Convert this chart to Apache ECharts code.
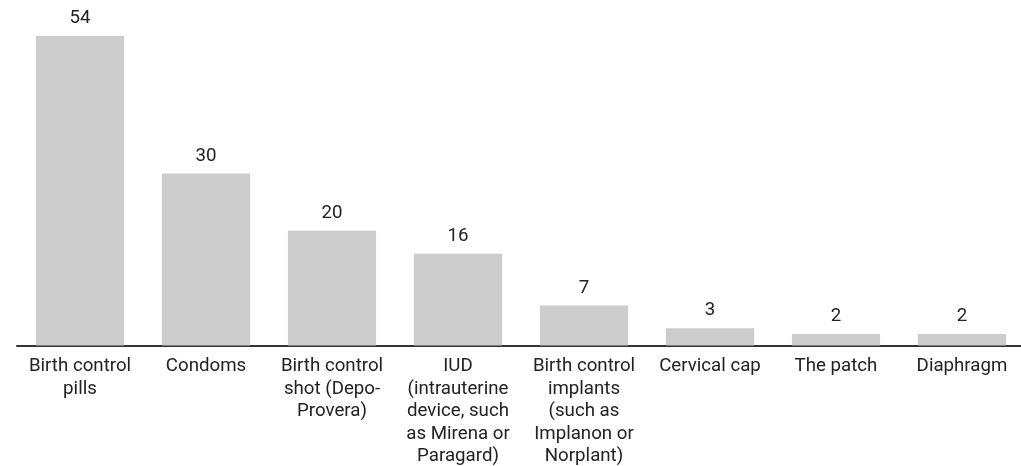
<!DOCTYPE html>
<html>
<head>
<meta charset="utf-8">
<script src="https://cdn.jsdelivr.net/npm/echarts@6/dist/echarts.min.js"></script>
<style>
  html, body { margin: 0; padding: 0; background: #fff; }
  #chart { width: 1021px; height: 466px; }
</style>
</head>
<body>
<div id="chart"></div>
<script>
// Contraceptive methods and counts
const categories = [
  'Birth control pills',
  'Condoms',
  'Birth control shot (Depo-Provera)',
  'IUD (intrauterine device, such as Mirena or Paragard)',
  'Birth control implants (such as Implanon or Norplant)',
  'Cervical cap',
  'The patch',
  'Diaphragm'
];
const counts = [54, 30, 20, 16, 7, 3, 2, 2];
const tickLabels = [
  'Birth control\npills',
  'Condoms',
  'Birth control\nshot (Depo-\nProvera)',
  'IUD\n(intrauterine\ndevice, such\nas Mirena or\nParagard)',
  'Birth control\nimplants\n(such as\nImplanon or\nNorplant)',
  'Cervical cap',
  'The patch',
  'Diaphragm'
];

const chart = echarts.init(document.getElementById('chart'));
chart.setOption({
  animation: false,
  grid: {
    left: 17, right: -4, top: 36, bottom: 120.5,
    containLabel: false,
    outerBoundsMode: 'none'
  },
  xAxis: {
    type: 'category',
    data: categories,
    axisLine: { show: true, lineStyle: { color: '#333', width: 2 } },
    axisTick: { show: false },
    axisLabel: {
      interval: 0,
      margin: 10,
      color: '#222',
      fontFamily: 'Roboto',
      fontSize: 18.7,
      lineHeight: 22.4,
      formatter: (v, i) => tickLabels[i]
    }
  },
  yAxis: {
    type: 'value',
    min: 0,
    max: 54,
    show: false,
    splitLine: { show: false }
  },
  series: [{
    type: 'bar',
    data: counts,
    barCategoryGap: '30%',
    itemStyle: { color: '#cccccc' },
    label: {
      show: true,
      position: 'top',
      distance: 8,
      color: '#222',
      fontFamily: 'Roboto',
      fontSize: 18.7
    }
  }]
});
</script>
</body>
</html>
